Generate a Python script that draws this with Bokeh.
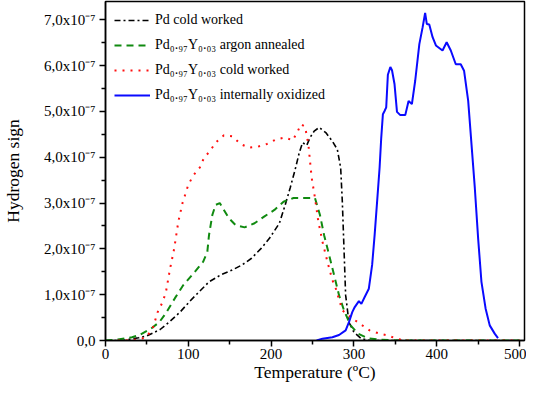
from bokeh.plotting import figure
from bokeh.models import (CustomJSTickFormatter, FixedTicker, Range1d, Legend,
                          LegendItem)
from bokeh.embed import file_html
from bokeh.resources import INLINE

FONT = "Liberation Serif"

# ---- data (temperature in ºC, hydrogen signal in units of 1e-7) ----
pd_cw_x = [0, 20, 30, 40, 50, 66, 78, 90, 102, 114, 125, 139, 153, 165, 176, 188, 198,
           210, 217, 223, 229, 234, 238, 243, 247, 252, 258, 266, 274, 280, 284, 286,
           288, 290, 294, 300, 309, 320, 500]
pd_cw_y = [0, 0.0, 0.03, 0.06, 0.10, 0.24, 0.42, 0.62, 0.86, 1.08, 1.28, 1.43, 1.54,
           1.65, 1.79, 2.01, 2.23, 2.56, 2.96, 3.33, 3.73, 4.10, 4.32, 4.26, 4.43, 4.57,
           4.65, 4.54, 4.35, 4.17, 3.77, 3.03, 2.01, 0.99, 0.40, 0.18, 0.04, 0.0, 0.0]

pdy_aa_x = [0, 15, 24, 32, 41, 55, 65, 73, 84, 94, 106, 118, 123, 125, 129, 133, 138,
            143, 149, 157, 168, 180, 192, 204, 215, 227, 243, 253, 259, 264, 270, 276,
            282, 288, 296, 305, 317, 330, 360, 500]
pdy_aa_y = [0, 0.02, 0.05, 0.07, 0.12, 0.26, 0.40, 0.60, 0.93, 1.21, 1.46, 1.72, 1.94,
            2.30, 2.74, 2.96, 3.00, 2.85, 2.67, 2.52, 2.47, 2.56, 2.71, 2.85, 3.03, 3.11,
            3.11, 3.11, 2.74, 2.30, 1.87, 1.43, 0.99, 0.66, 0.33, 0.15, 0.05, 0.02, 0.0, 0.0]

pdy_cw_x = [15, 30, 40, 49, 57, 63, 69, 73, 78, 83, 88, 93, 100, 106, 114, 119, 126,
            133, 143, 153, 163, 173, 184, 195, 206, 217, 226, 232, 236, 241, 245, 247,
            249, 253, 257, 262, 268, 274, 278, 286, 296, 307, 319, 331, 341, 350, 360, 500]
pdy_cw_y = [0, 0.01, 0.02, 0.07, 0.26, 0.62, 0.84, 1.06, 1.57, 2.01, 2.60, 3.00, 3.40,
            3.60, 3.78, 3.99, 4.13, 4.32, 4.48, 4.46, 4.29, 4.21, 4.23, 4.29, 4.39, 4.43,
            4.37, 4.56, 4.72, 4.67, 4.28, 3.91, 3.55, 3.11, 2.60, 2.16, 1.72, 1.32, 1.14,
            0.66, 0.51, 0.37, 0.22, 0.15, 0.11, 0.05, 0.0, 0.0]

pdy_io_x = [255, 262, 274, 282, 290, 294, 298, 301, 306, 309, 313, 318, 322, 325, 328,
            331, 333, 335, 337, 339, 341, 344, 346, 349, 352, 356, 362, 366, 370, 374,
            379, 383, 386, 388, 391, 395, 399, 407, 412, 417, 423, 429, 433, 438, 442,
            446, 450, 454, 459, 464, 470, 474]
pdy_io_y = [0, 0.04, 0.07, 0.12, 0.22, 0.40, 0.62, 0.73, 0.86, 0.80, 0.95, 1.13, 1.65,
            2.30, 3.03, 3.77, 4.43, 4.94, 5.01, 5.09, 5.80, 5.97, 5.90, 5.60, 4.99, 4.92,
            4.92, 5.23, 5.16, 5.67, 6.47, 6.84, 7.15, 6.91, 6.90, 6.62, 6.44, 6.33, 6.51,
            6.33, 6.03, 6.03, 5.89, 5.23, 4.28, 3.33, 2.23, 1.28, 0.70, 0.33, 0.15, 0.05]

x_ticks = [0, 100, 200, 300, 400, 500]
x_minor = [50, 150, 250, 350, 450]
y_ticks = [0, 1, 2, 3, 4, 5, 6, 7]
y_minor = [0.5, 1.5, 2.5, 3.5, 4.5, 5.5, 6.5]

labels = ["Pd cold worked",
          "Pd\u2080.\u2089\u2087Y\u2080.\u2080\u2083 argon annealed",
          "Pd\u2080.\u2089\u2087Y\u2080.\u2080\u2083 cold worked",
          "Pd\u2080.\u2089\u2087Y\u2080.\u2080\u2083 internally oxidized"]

p = figure(width=526, height=388, output_backend="svg", toolbar_location=None,
           x_range=Range1d(0, 506), y_range=Range1d(0, 7.4),
           min_border_left=99, min_border_right=2, min_border_top=1,
           min_border_bottom=48)
p.grid.visible = False
p.outline_line_color = "black"
p.outline_line_width = 1.5
p.background_fill_color = "white"

r1 = p.line(pd_cw_x, pd_cw_y, line_color="black", line_width=1.6, line_dash="6 3 2 3")
r2 = p.line(pdy_aa_x, pdy_aa_y, line_color="#108a10", line_width=2, line_dash="7 5")
r3 = p.line(pdy_cw_x, pdy_cw_y, line_color="#ff1010", line_width=2, line_dash="2 6")
r4 = p.line(pdy_io_x, pdy_io_y, line_color="#0a0aff", line_width=2)

p.xaxis.ticker = FixedTicker(ticks=x_ticks, minor_ticks=x_minor)
p.yaxis.ticker = FixedTicker(ticks=y_ticks, minor_ticks=y_minor)
p.yaxis.formatter = CustomJSTickFormatter(code="""
    if (Math.abs(tick) < 1e-9) { return "0,0"; }
    return tick.toFixed(1).replace('.', ',') + "x10\u207B\u2077";
""")

for ax in (p.xaxis[0], p.yaxis[0]):
    ax.axis_line_color = "black"
    ax.axis_line_width = 1.5
    ax.major_tick_line_color = "black"
    ax.minor_tick_line_color = "black"
    ax.major_tick_line_width = 1.5
    ax.minor_tick_line_width = 1.5
    ax.major_tick_in = 0
    ax.major_tick_out = 6
    ax.minor_tick_in = 0
    ax.minor_tick_out = 4
    ax.major_label_text_font = FONT
    ax.major_label_text_font_size = "15px"
    ax.major_label_text_color = "black"
    ax.axis_label_text_font = FONT
    ax.axis_label_text_font_size = "17.5px"
    ax.axis_label_text_font_style = "normal"
    ax.axis_label_text_color = "black"

p.xaxis.axis_label = "Temperature (\u00baC)"
p.yaxis.axis_label = "Hydrogen sign"
p.xaxis.major_label_standoff = 2
p.xaxis.axis_label_standoff = 0
p.yaxis.major_label_standoff = 4
p.yaxis.axis_label_standoff = 18

legend = Legend(items=[LegendItem(label=labels[0], renderers=[r1]),
                       LegendItem(label=labels[1], renderers=[r2]),
                       LegendItem(label=labels[2], renderers=[r3]),
                       LegendItem(label=labels[3], renderers=[r4])],
                location=(9, 234), margin=0, padding=0,
                border_line_alpha=0, background_fill_alpha=0,
                glyph_width=36, glyph_height=22, label_height=22, spacing=3,
                label_standoff=5, label_text_font=FONT,
                label_text_font_size="14px", label_text_color="black")
p.add_layout(legend)

open("out.html", "w").write(file_html(p, INLINE))
